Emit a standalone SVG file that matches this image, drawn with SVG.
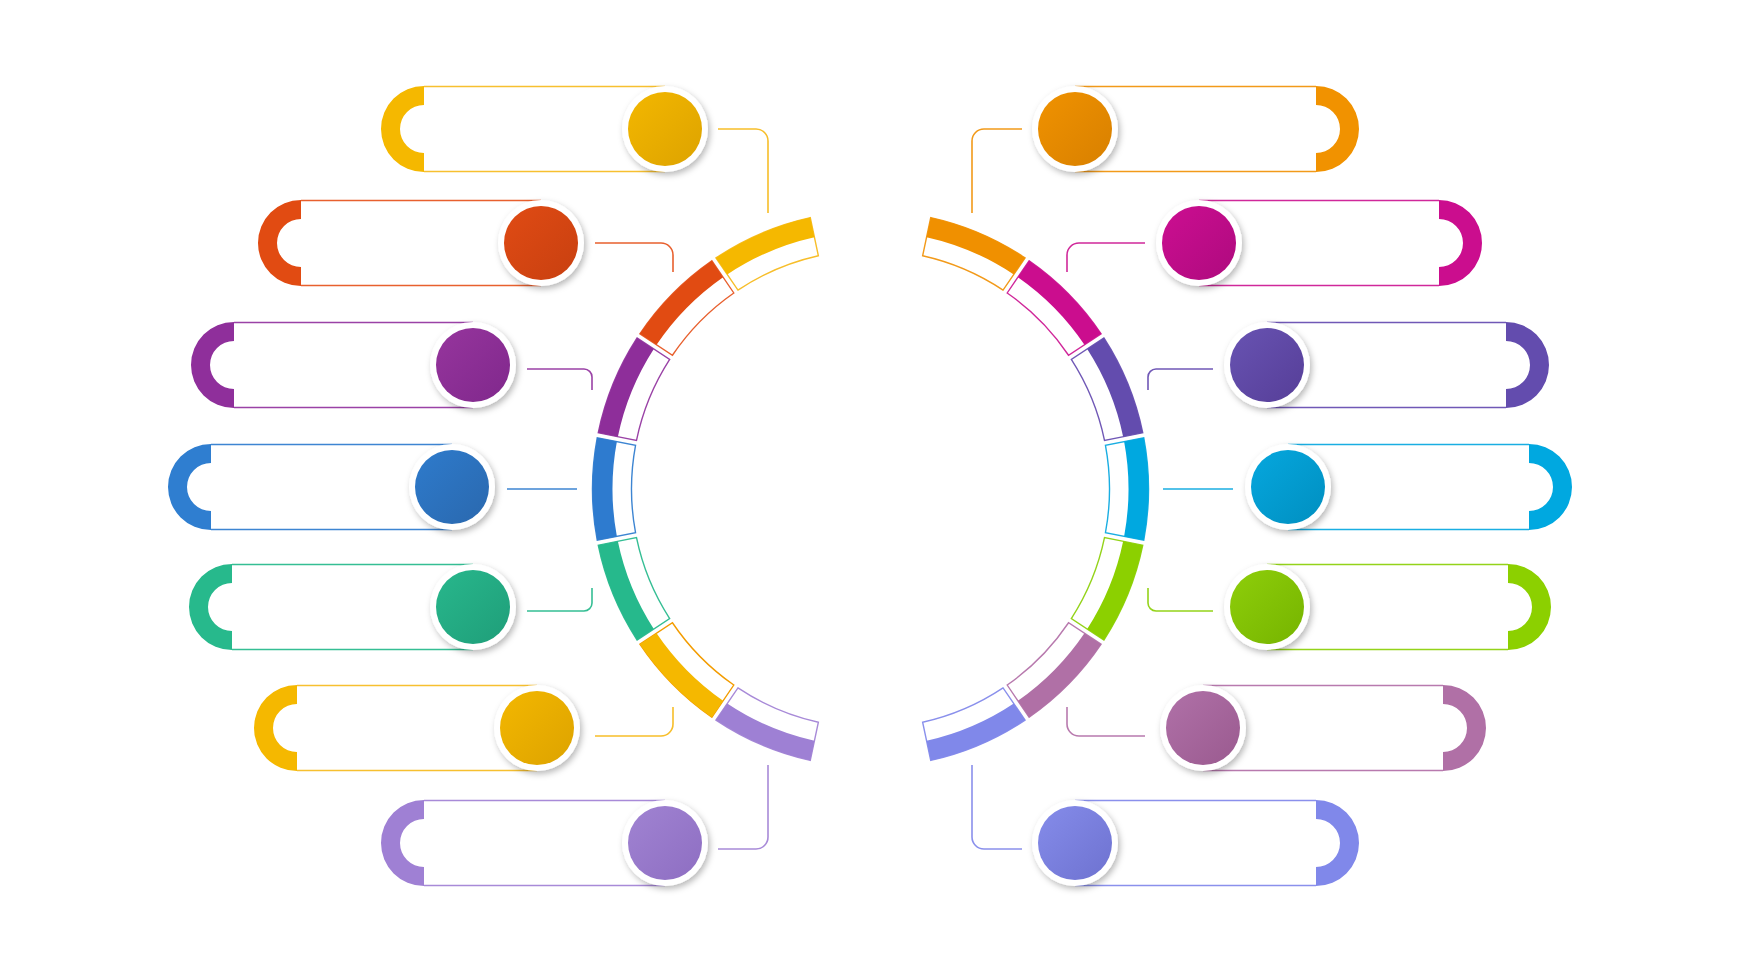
<svg xmlns="http://www.w3.org/2000/svg" xmlns:xlink="http://www.w3.org/1999/xlink" width="1742" height="980" viewBox="0 0 1742 980">
<style>
.ln{fill:none;stroke-width:1.6}
.cn{fill:none;stroke-width:1.6}
.ring{fill:#fff;filter:url(#sh)}
.seg{fill:#fff;stroke-width:1.4}
</style>
<defs>
<filter id="sh" x="-30%" y="-30%" width="160%" height="160%">
<feDropShadow dx="2" dy="3" stdDeviation="3" flood-color="#000" flood-opacity="0.28"/>
</filter>
<path id="segAll" d="M-51.27,-273.23 A278,278 0 0 1 51.27,-273.23 L43.73,-234.96 A239,239 0 0 0 -43.73,-234.96 Z"/>
<path id="segBand" d="M-51.27,-273.23 A278,278 0 0 1 51.27,-273.23 L47.40,-253.61 A258,258 0 0 0 -47.40,-253.61 Z"/>
<linearGradient id="gL1" x1="0" y1="0" x2="1" y2="1"><stop offset="0" stop-color="#F3B700"/><stop offset="1" stop-color="#DDA300"/></linearGradient>
<linearGradient id="gL2" x1="0" y1="0" x2="1" y2="1"><stop offset="0" stop-color="#E04B14"/><stop offset="1" stop-color="#C84010"/></linearGradient>
<linearGradient id="gL3" x1="0" y1="0" x2="1" y2="1"><stop offset="0" stop-color="#96359D"/><stop offset="1" stop-color="#80288C"/></linearGradient>
<linearGradient id="gL4" x1="0" y1="0" x2="1" y2="1"><stop offset="0" stop-color="#2E7BCC"/><stop offset="1" stop-color="#2A68AE"/></linearGradient>
<linearGradient id="gL5" x1="0" y1="0" x2="1" y2="1"><stop offset="0" stop-color="#28B78C"/><stop offset="1" stop-color="#1F9E79"/></linearGradient>
<linearGradient id="gL6" x1="0" y1="0" x2="1" y2="1"><stop offset="0" stop-color="#F3B700"/><stop offset="1" stop-color="#DDA300"/></linearGradient>
<linearGradient id="gL7" x1="0" y1="0" x2="1" y2="1"><stop offset="0" stop-color="#A083D2"/><stop offset="1" stop-color="#8E6EC2"/></linearGradient>
<linearGradient id="gR1" x1="0" y1="0" x2="1" y2="1"><stop offset="0" stop-color="#F09200"/><stop offset="1" stop-color="#D88000"/></linearGradient>
<linearGradient id="gR2" x1="0" y1="0" x2="1" y2="1"><stop offset="0" stop-color="#CC0E91"/><stop offset="1" stop-color="#AE0A7E"/></linearGradient>
<linearGradient id="gR3" x1="0" y1="0" x2="1" y2="1"><stop offset="0" stop-color="#6853B2"/><stop offset="1" stop-color="#563E98"/></linearGradient>
<linearGradient id="gR4" x1="0" y1="0" x2="1" y2="1"><stop offset="0" stop-color="#06A7DE"/><stop offset="1" stop-color="#008FC0"/></linearGradient>
<linearGradient id="gR5" x1="0" y1="0" x2="1" y2="1"><stop offset="0" stop-color="#8ECE0A"/><stop offset="1" stop-color="#76B400"/></linearGradient>
<linearGradient id="gR6" x1="0" y1="0" x2="1" y2="1"><stop offset="0" stop-color="#B071A8"/><stop offset="1" stop-color="#9A5A8F"/></linearGradient>
<linearGradient id="gR7" x1="0" y1="0" x2="1" y2="1"><stop offset="0" stop-color="#858CEA"/><stop offset="1" stop-color="#6E72D0"/></linearGradient>
</defs>
<rect width="1742" height="980" fill="#fff"/>

<g id="connectors">
<path class="cn" stroke="#F7BE2A" d="M718,129 H756 A12,12 0 0 1 768,141 V213"/>
<path class="cn" stroke="#E8602E" d="M595,243 H661 A12,12 0 0 1 673,255 V272"/>
<path class="cn" stroke="#9A42A6" d="M527,369 H584 A8,8 0 0 1 592,377 V390"/>
<path class="cn" stroke="#3D85D2" d="M507,489 H577"/>
<path class="cn" stroke="#35BE94" d="M527,611 H584 A8,8 0 0 0 592,603 V588"/>
<path class="cn" stroke="#F7BE2A" d="M595,736 H661 A12,12 0 0 0 673,724 V707"/>
<path class="cn" stroke="#A88AD8" d="M718,849 H756 A12,12 0 0 0 768,837 V765"/>
<path class="cn" stroke="#F29A1A" d="M1022,129 H984 A12,12 0 0 0 972,141 V213"/>
<path class="cn" stroke="#D0289A" d="M1145,243 H1079 A12,12 0 0 0 1067,255 V272"/>
<path class="cn" stroke="#7058B6" d="M1213,369 H1156 A8,8 0 0 0 1148,377 V390"/>
<path class="cn" stroke="#1AAEE2" d="M1233,489 H1163"/>
<path class="cn" stroke="#94D31A" d="M1213,611 H1156 A8,8 0 0 1 1148,603 V588"/>
<path class="cn" stroke="#B87AAE" d="M1145,736 H1079 A12,12 0 0 1 1067,724 V707"/>
<path class="cn" stroke="#8A90EC" d="M1022,849 H984 A12,12 0 0 1 972,837 V765"/>
</g>

<g id="left-1">
<use href="#segAll" class="seg" stroke="#F7BE2A" transform="translate(870.5,489) rotate(-23.143)"/>
<use href="#segBand" fill="#F5B800" transform="translate(870.5,489) rotate(-23.143)"/>
<path class="ln" stroke="#F7C030" d="M424,86.5 H665 M424,171.5 H665"/>
<path fill="#F5B800" d="M424,86 A43,43 0 0 0 424,172 V153 A24,24 0 0 1 424,105 Z"/>
<circle class="ring" cx="665" cy="129" r="43"/>
<circle cx="665" cy="129" r="37" fill="url(#gL1)"/>
</g>
<g id="left-2">
<use href="#segAll" class="seg" stroke="#E8602E" transform="translate(870.5,489) rotate(-45.429)"/>
<use href="#segBand" fill="#E14B12" transform="translate(870.5,489) rotate(-45.429)"/>
<path class="ln" stroke="#E8602E" d="M301,200.5 H541 M301,285.5 H541"/>
<path fill="#E14B12" d="M301,200 A43,43 0 0 0 301,286 V267 A24,24 0 0 1 301,219 Z"/>
<circle class="ring" cx="541" cy="243" r="43"/>
<circle cx="541" cy="243" r="37" fill="url(#gL2)"/>
</g>
<g id="left-3">
<use href="#segAll" class="seg" stroke="#9A42A6" transform="translate(870.5,489) rotate(-67.714)"/>
<use href="#segBand" fill="#8E2E9A" transform="translate(870.5,489) rotate(-67.714)"/>
<path class="ln" stroke="#9A42A6" d="M234,322.5 H473 M234,407.5 H473"/>
<path fill="#8F2F9B" d="M234,322 A43,43 0 0 0 234,408 V389 A24,24 0 0 1 234,341 Z"/>
<circle class="ring" cx="473" cy="365" r="43"/>
<circle cx="473" cy="365" r="37" fill="url(#gL3)"/>
</g>
<g id="left-4">
<use href="#segAll" class="seg" stroke="#3D85D2" transform="translate(870.5,489) rotate(-90)"/>
<use href="#segBand" fill="#2E7BCF" transform="translate(870.5,489) rotate(-90)"/>
<path class="ln" stroke="#3D85D2" d="M211,444.5 H452 M211,529.5 H452"/>
<path fill="#2F7ED0" d="M211,444 A43,43 0 0 0 211,530 V511 A24,24 0 0 1 211,463 Z"/>
<circle class="ring" cx="452" cy="487" r="43"/>
<circle cx="452" cy="487" r="37" fill="url(#gL4)"/>
</g>
<g id="left-5">
<use href="#segAll" class="seg" stroke="#35BE94" transform="translate(870.5,489) rotate(-112.286)"/>
<use href="#segBand" fill="#26B98C" transform="translate(870.5,489) rotate(-112.286)"/>
<path class="ln" stroke="#35BE94" d="M232,564.5 H473 M232,649.5 H473"/>
<path fill="#27B98C" d="M232,564 A43,43 0 0 0 232,650 V631 A24,24 0 0 1 232,583 Z"/>
<circle class="ring" cx="473" cy="607" r="43"/>
<circle cx="473" cy="607" r="37" fill="url(#gL5)"/>
</g>
<g id="left-6">
<use href="#segAll" class="seg" stroke="#F39C00" transform="translate(870.5,489) rotate(-134.571)"/>
<use href="#segBand" fill="#F5B800" transform="translate(870.5,489) rotate(-134.571)"/>
<path class="ln" stroke="#F7C030" d="M297,685.5 H537 M297,770.5 H537"/>
<path fill="#F5B800" d="M297,685 A43,43 0 0 0 297,771 V752 A24,24 0 0 1 297,704 Z"/>
<circle class="ring" cx="537" cy="728" r="43"/>
<circle cx="537" cy="728" r="37" fill="url(#gL6)"/>
</g>
<g id="left-7">
<use href="#segAll" class="seg" stroke="#A88AD8" transform="translate(870.5,489) rotate(-156.857)"/>
<use href="#segBand" fill="#9E80D4" transform="translate(870.5,489) rotate(-156.857)"/>
<path class="ln" stroke="#A88AD8" d="M424,800.5 H665 M424,885.5 H665"/>
<path fill="#9F80D4" d="M424,800 A43,43 0 0 0 424,886 V867 A24,24 0 0 1 424,819 Z"/>
<circle class="ring" cx="665" cy="843" r="43"/>
<circle cx="665" cy="843" r="37" fill="url(#gL7)"/>
</g>

<g id="right-1">
<use href="#segAll" class="seg" stroke="#F29A1A" transform="translate(870.5,489) rotate(23.143)"/>
<use href="#segBand" fill="#F09000" transform="translate(870.5,489) rotate(23.143)"/>
<path class="ln" stroke="#F29A1A" d="M1316,86.5 H1075 M1316,171.5 H1075"/>
<path fill="#F19200" d="M1316,86 A43,43 0 0 1 1316,172 V153 A24,24 0 0 0 1316,105 Z"/>
<circle class="ring" cx="1075" cy="129" r="43"/>
<circle cx="1075" cy="129" r="37" fill="url(#gR1)"/>
</g>
<g id="right-2">
<use href="#segAll" class="seg" stroke="#D0289A" transform="translate(870.5,489) rotate(45.429)"/>
<use href="#segBand" fill="#CB0D8E" transform="translate(870.5,489) rotate(45.429)"/>
<path class="ln" stroke="#D0289A" d="M1439,200.5 H1199 M1439,285.5 H1199"/>
<path fill="#CB0D8E" d="M1439,200 A43,43 0 0 1 1439,286 V267 A24,24 0 0 0 1439,219 Z"/>
<circle class="ring" cx="1199" cy="243" r="43"/>
<circle cx="1199" cy="243" r="37" fill="url(#gR2)"/>
</g>
<g id="right-3">
<use href="#segAll" class="seg" stroke="#7058B6" transform="translate(870.5,489) rotate(67.714)"/>
<use href="#segBand" fill="#634CAE" transform="translate(870.5,489) rotate(67.714)"/>
<path class="ln" stroke="#7058B6" d="M1506,322.5 H1267 M1506,407.5 H1267"/>
<path fill="#634CAE" d="M1506,322 A43,43 0 0 1 1506,408 V389 A24,24 0 0 0 1506,341 Z"/>
<circle class="ring" cx="1267" cy="365" r="43"/>
<circle cx="1267" cy="365" r="37" fill="url(#gR3)"/>
</g>
<g id="right-4">
<use href="#segAll" class="seg" stroke="#1AAEE2" transform="translate(870.5,489) rotate(90)"/>
<use href="#segBand" fill="#00A8E0" transform="translate(870.5,489) rotate(90)"/>
<path class="ln" stroke="#1AAEE2" d="M1529,444.5 H1288 M1529,529.5 H1288"/>
<path fill="#00A8E0" d="M1529,444 A43,43 0 0 1 1529,530 V511 A24,24 0 0 0 1529,463 Z"/>
<circle class="ring" cx="1288" cy="487" r="43"/>
<circle cx="1288" cy="487" r="37" fill="url(#gR4)"/>
</g>
<g id="right-5">
<use href="#segAll" class="seg" stroke="#94D31A" transform="translate(870.5,489) rotate(112.286)"/>
<use href="#segBand" fill="#8CD000" transform="translate(870.5,489) rotate(112.286)"/>
<path class="ln" stroke="#94D31A" d="M1508,564.5 H1267 M1508,649.5 H1267"/>
<path fill="#8CD000" d="M1508,564 A43,43 0 0 1 1508,650 V631 A24,24 0 0 0 1508,583 Z"/>
<circle class="ring" cx="1267" cy="607" r="43"/>
<circle cx="1267" cy="607" r="37" fill="url(#gR5)"/>
</g>
<g id="right-6">
<use href="#segAll" class="seg" stroke="#B87AAE" transform="translate(870.5,489) rotate(134.571)"/>
<use href="#segBand" fill="#B070A6" transform="translate(870.5,489) rotate(134.571)"/>
<path class="ln" stroke="#B87AAE" d="M1443,685.5 H1203 M1443,770.5 H1203"/>
<path fill="#B070A6" d="M1443,685 A43,43 0 0 1 1443,771 V752 A24,24 0 0 0 1443,704 Z"/>
<circle class="ring" cx="1203" cy="728" r="43"/>
<circle cx="1203" cy="728" r="37" fill="url(#gR6)"/>
</g>
<g id="right-7">
<use href="#segAll" class="seg" stroke="#8A90EC" transform="translate(870.5,489) rotate(156.857)"/>
<use href="#segBand" fill="#8088EA" transform="translate(870.5,489) rotate(156.857)"/>
<path class="ln" stroke="#8A90EC" d="M1316,800.5 H1075 M1316,885.5 H1075"/>
<path fill="#8088EA" d="M1316,800 A43,43 0 0 1 1316,886 V867 A24,24 0 0 0 1316,819 Z"/>
<circle class="ring" cx="1075" cy="843" r="43"/>
<circle cx="1075" cy="843" r="37" fill="url(#gR7)"/>
</g>
</svg>
